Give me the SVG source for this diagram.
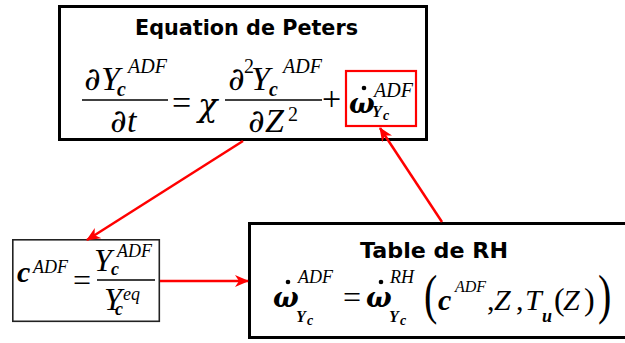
<svg xmlns="http://www.w3.org/2000/svg" width="625" height="343" viewBox="0 0 625 343">
<defs>
<style>
.box{fill:#fff;stroke:#000;stroke-width:3}
.thin{fill:#fff;stroke:#222;stroke-width:1.6}
.ttl{font-family:"DejaVu Sans","Liberation Sans",sans-serif;font-weight:bold;font-size:21px;fill:#000}
.m{font-family:"Liberation Serif","Tinos","Times New Roman","DejaVu Serif",serif;font-style:italic;fill:#000}
.g{font-family:"DejaVu Serif","Liberation Serif",serif;font-style:italic}
.r{font-style:normal}
.bar{stroke:#000;stroke-width:1.5}
.con{stroke:#f00;stroke-width:2.5;fill:none;marker-end:url(#ah)}
</style>
<marker id="ah" markerUnits="userSpaceOnUse" markerWidth="14" markerHeight="12" viewBox="0 0 14 12" refX="13" refY="6" orient="auto">
<path d="M0,0 L14,6 L0,12 L4,6 z" fill="#f00"/>
</marker>
</defs>
<rect width="625" height="343" fill="#fff"/>

<g id="peters">
<rect class="box" x="59.5" y="6.5" width="367" height="133"/>
<text class="ttl" x="246.5" y="35" text-anchor="middle" textLength="223" lengthAdjust="spacingAndGlyphs">Equation de Peters</text>
<text class="m" font-size="34"><tspan class="g" x="84" y="90" font-size="32">∂</tspan><tspan x="101" y="90">Y</tspan><tspan x="117" y="96" font-size="20" font-weight="bold">c</tspan><tspan x="128" y="73" font-size="20">ADF</tspan></text>
<line class="bar" x1="82" y1="100" x2="168" y2="100"/>
<text class="m" font-size="34"><tspan class="g" x="110" y="132" font-size="32">∂</tspan><tspan x="127" y="132">t</tspan></text>
<text class="m r" font-size="34" x="172" y="114">=</text>
<text class="m g" font-size="32" x="198" y="116">χ</text>
<text class="m" font-size="34"><tspan class="g" x="228" y="90" font-size="32">∂</tspan><tspan x="244" y="73" font-size="20" font-style="normal">2</tspan><tspan x="251" y="90">Y</tspan><tspan x="269" y="96" font-size="20" font-weight="bold">c</tspan><tspan x="283" y="73" font-size="20">ADF</tspan></text>
<line class="bar" x1="225" y1="100" x2="322" y2="100"/>
<text class="m" font-size="34"><tspan class="g" x="248" y="132" font-size="32">∂</tspan><tspan x="265" y="132">Z</tspan><tspan x="288" y="121" font-size="20" font-style="normal">2</tspan></text>
<text class="m r" font-size="34" x="322" y="110">+</text>
<rect x="346" y="71" width="70" height="55" fill="none" stroke="#f00" stroke-width="2.2"/>
<text class="m" font-size="32"><tspan class="g" x="349" y="113" font-size="27" font-weight="bold">ω</tspan><tspan x="374" y="97" font-size="20">ADF</tspan><tspan x="372" y="117" font-size="16" font-weight="bold">Y</tspan><tspan x="383" y="120" font-size="14" font-weight="bold">c</tspan></text>
<circle cx="364" cy="88" r="2.3" fill="#000"/>
</g>

<g id="cadf">
<rect class="thin" x="12.8" y="239.8" width="146.5" height="81.5"/>
<text class="m" font-size="30"><tspan x="17" y="282" font-weight="bold">c</tspan><tspan x="33" y="273" font-size="18">ADF</tspan></text>
<text class="m r" font-size="32" x="73" y="291">=</text>
<text class="m" font-size="32"><tspan x="94" y="271">Y</tspan><tspan x="111" y="275" font-size="18" font-weight="bold">c</tspan><tspan x="117" y="257" font-size="18">ADF</tspan></text>
<line class="bar" x1="97" y1="280" x2="155" y2="280"/>
<text class="m" font-size="32"><tspan x="104" y="310">Y</tspan><tspan x="115" y="315" font-size="18" font-weight="bold">c</tspan><tspan x="123" y="300" font-size="18">eq</tspan></text>
</g>

<g id="rh">
<rect class="box" x="249.5" y="223.5" width="380" height="114"/>
<text class="ttl" x="434" y="258" text-anchor="middle" textLength="148" lengthAdjust="spacingAndGlyphs">Table de RH</text>
<text class="m" font-size="32"><tspan class="g" x="273" y="307" font-size="27" font-weight="bold">ω</tspan><tspan x="298" y="283" font-size="18">ADF</tspan><tspan x="296" y="322" font-size="16" font-weight="bold">Y</tspan><tspan x="307" y="325" font-size="14" font-weight="bold">c</tspan></text>
<circle cx="288" cy="282" r="2.3" fill="#000"/>
<text class="m r" font-size="32" x="343" y="308">=</text>
<text class="m" font-size="32"><tspan class="g" x="366" y="307" font-size="27" font-weight="bold">ω</tspan><tspan x="390" y="283" font-size="18">RH</tspan><tspan x="389" y="322" font-size="16" font-weight="bold">Y</tspan><tspan x="400" y="325" font-size="14" font-weight="bold">c</tspan></text>
<circle cx="381" cy="282" r="2.3" fill="#000"/>
<text class="m r" font-size="40" transform="matrix(1,0,0,1.39,424,313)">(</text>
<text class="m" font-size="30"><tspan x="438" y="310" font-weight="bold">c</tspan><tspan x="455" y="292" font-size="16">ADF</tspan><tspan x="487" y="310" font-style="normal">,</tspan><tspan x="494" y="310">Z</tspan><tspan x="516" y="310" font-style="normal">,</tspan><tspan x="525" y="310">T</tspan><tspan x="542" y="322" font-size="18" font-weight="bold">u</tspan><tspan x="554" y="310" font-size="32" font-style="normal">(</tspan><tspan x="563" y="310">Z</tspan><tspan x="584" y="310" font-size="32" font-style="normal">)</tspan></text>
<text class="m r" font-size="40" transform="matrix(1,0,0,1.39,598,313)">)</text>
</g>

<g id="connectors">
<line class="con" x1="243" y1="141" x2="87" y2="240"/>
<line class="con" x1="160" y1="281" x2="248" y2="281"/>
<line class="con" x1="442" y1="222" x2="380" y2="128"/>
</g>
</svg>
